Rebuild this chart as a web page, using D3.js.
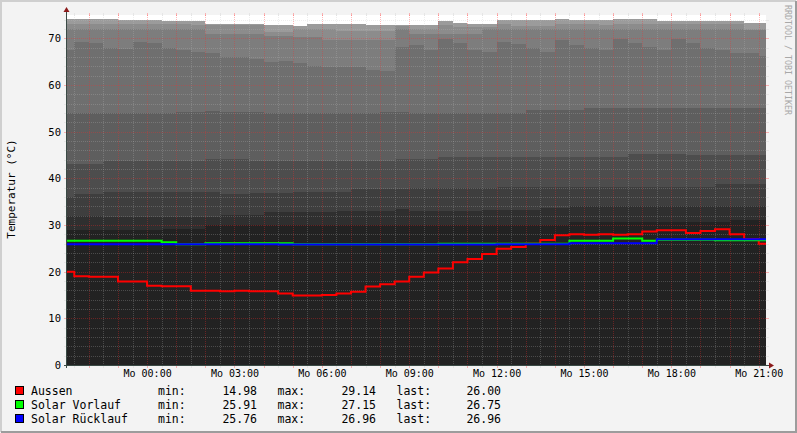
<!DOCTYPE html>
<html>
<head>
<meta charset="utf-8">
<script src="https://cdn.jsdelivr.net/npm/d3@7"></script>
<style>
  body { margin: 0; background: #f3f3f3; }
  text { font-family: "DejaVu Sans Mono", monospace; }
</style>
</head>
<body>
<svg id="chart" width="797" height="433"></svg>
<script>
// samples every 30 minutes, Sunday 21:15 .. Monday 21:15
const start = new Date(2013, 6, 14, 21, 15);
const stepMinutes = 30;

// grey background layers (tank sensors), top of each area
const shadeA = [74.1,74.1,74.1,74.1, 73.9,73.9,73.9, 73.7,73.7,73.7, 73.1,73.1,73.1,73.1, 72.9,72.9, 72.6,
  73.1,73.1,73.1,73.1, 72.9,72.9, 72.9,72.9,72.9, 73.7, 73.3, 73.1,73.1, 73.9,73.9,73.9,73.9, 74.1,
  73.9,73.9,73.9, 74.1,74.1,74.1, 73.8,73.8,73.8,73.8,73.8,73.8, 73.2,73.2];
const shadeB = [73.1,73.1,73.1,73.1,73.1,73.1,73.1,73.1,73.1, 72.8,72.8,72.8,72.8,72.8, 71.4,71.4,
  72.0,72.0,72.0, 71.6,71.6,71.6,71.6, 72.7, 72.0,72.0, 72.9, 72.4,72.4,72.4, 73.1, 72.7,72.7,72.7,
  73.1,73.1,73.1, 72.9, 73.0,73.0,73.0,73.0,73.0,73.0,73.0,73.0,73.0, 71.9,71.9];
const shadeC = [72.0,72.0,72.0,72.0,72.0,72.0,72.0,72.0,72.0, 72.1, 71.0,71.0,71.0,71.0, 70.4,70.4,
  70.3,70.3, 69.7,69.7,69.7,69.7,69.7, 71.9, 71.0,71.0,71.0,71.0,71.0,
  72.0,72.0,72.0,72.0,72.0,72.0,72.0,72.0,72.0,72.0,72.0,72.0,72.0,72.0,72.0,72.0,72.0,72.0, 71.8,71.8];
const shadeWave = [67.6,69.3,68.9,67.9,67.7,69.3,68.9,67.9,67.4,67.0,66.8,65.9,65.9,65.6,64.9,65.1,64.8,
  64.1,63.9,63.9,63.8,63.2,62.9,68.2,68.6,67.5,69.8,68.9,67.6,67.1,69.3,68.7,67.9,67.0,69.6,68.6,67.9,
  67.4,69.9,68.9,68.2,67.6,69.8,68.9,67.9,67.5,66.9,66.8,66.2];
const shadeF = [53.9,53.9,53.9,53.9,53.9,53.9,53.9,53.9, 54.2,54.2,54.4,54.3, 54.2,54.2,
  53.9,53.9,53.9,53.9,53.9,53.9,53.9,53.9, 54.2,54.2,54.1,54.1, 53.9,53.9,53.9, 54.1,54.1,54.1,
  54.6,54.6,54.6,54.6, 55.0,55.0,55.0,55.0,55.0,55.0,55.0,55.0,55.0,55.0,55.0,55.0,55.0];
const shadeG = [43.1,43.1,43.1, 43.8,43.8,43.8,43.8,43.8,43.8,43.8, 44.1,44.1,44.1,
  43.8,43.8,43.8,43.8,43.8,43.8,43.8,43.8,43.8,43.8, 44.1,44.1,44.1,
  44.6,44.6,44.6,44.6,44.6,44.6,44.6,44.6,44.6,44.6,44.6,44.6,44.6, 45.2,45.2,45.2,45.2,
  44.9,44.9,44.9,44.9,44.9,44.9];
const shadeH = [36.1, 36.6,36.6, 37.0,37.0,37.0,37.0,37.0,37.0,37.0,37.0, 36.6,36.6, 36.8,36.8,36.8,
  37.0,37.0,37.0,37.0, 37.7,37.7,37.7,37.7, 37.9,37.9,37.9,37.9,37.9,37.9,
  38.1,38.1,38.1,38.1,38.1,38.1,38.1,38.1,38.1,38.1,38.1,38.1,38.1,38.1,38.1, 38.8,38.8,38.8,38.8];
const shadeI = [32.0,32.0,32.0, 31.8,31.8,31.8,31.8,31.8,31.8,31.8,31.8, 32.1,32.1,32.1,
  32.7,32.7,32.7,32.7,32.7, 33.0,33.0,33.0,33.0, 33.4, 32.9,32.9,32.9,32.9,32.9, 33.2,33.2,33.2,33.2,
  33.6,33.6, 34.1,34.1,34.1,34.1,34.1,34.1,34.1,34.1,34.1,34.1,34.1,34.1,34.1,34.1];
const shadeJ = [28.9,28.9,28.9,28.9,28.9,28.9,28.9, 29.2,29.2,29.2,
  29.9,29.9,29.9,29.9,29.9,29.9,29.9,29.9,29.9,29.9,29.9,29.9, 30.1,
  30.0,30.0,30.0,30.0,30.0,30.0,30.0,30.0,30.0,30.0,30.0,30.0,
  30.7,30.7,30.7,30.7,30.7,30.7,30.7,30.7,30.7,30.7,30.7, 31.1,31.1,31.1];

// plotted series
const aussen = [20.0,19.0,18.9,18.9,17.9,17.9,17.0,16.9,16.9,15.9,15.9,15.8,15.9,15.8,15.8,15.3,14.9,
  14.9,15.0,15.3,15.7,16.8,17.3,17.9,18.9,19.8,20.7,22.0,22.7,23.8,24.9,25.3,26.0,26.8,27.8,28.0,27.9,
  28.0,27.9,28.0,28.6,28.9,28.9,28.3,28.7,29.1,28.0,27.0,26.0];
const vorlauf = [26.6,26.6,26.6,26.6,26.6,26.6,26.6, 26.3, 25.9,25.9, 26.1,26.1,26.1,26.1,26.1,26.1,
  25.9,25.9,25.9,25.9,25.9,25.9,25.9,25.9,25.9,25.9, 26.0,26.0,26.0,26.0,26.0,26.0,26.0,26.0,26.0,
  26.6,26.6,26.6, 27.1,27.1, 26.6, 26.85,26.85,26.85,26.85, 26.75,26.75,26.75,26.75];
const ruecklauf = [25.9,25.9,25.9,25.9,25.9,25.9,25.9,25.9,25.9,25.9,25.9,25.9,25.9,25.9,25.9,
  25.8,25.8,25.8,25.8,25.8,25.8,25.8,25.8,25.8,25.8,25.8,25.8,25.8,25.8,25.8,
  25.9,25.9,25.9,25.9,25.9, 26.1,26.1,26.1,26.1,26.1,26.1,
  26.96,26.96,26.96,26.96,26.96,26.96,26.96,26.96];

// legend
const legendNames = ["Aussen", "Solar Vorlauf", "Solar Rücklauf"];
const legendColors = ["#ff0000", "#00ff00", "#0000ff"];
const statMin = ["14.98", "25.91", "25.76"];
const statMax = ["29.14", "27.15", "26.96"];
const statLast = ["26.00", "26.75", "26.96"];

const yTicks = [0, 10, 20, 30, 40, 50, 60, 70];

const W = 797, H = 433;
const plot = { left: 67, right: 766, top: 15, bottom: 365 };

const svg = d3.select("#chart");
const end = new Date(start.getTime() + 24 * 3600 * 1000);
const times = aussen.map((d, i) => new Date(start.getTime() + i * stepMinutes * 60000));

const x = d3.scaleTime().domain([start, end]).range([plot.left, plot.right]);
const y = d3.scaleLinear().domain([0, 75]).range([plot.bottom, plot.top]);

// background + 3d frame
svg.append("rect").attr("width", W).attr("height", H).attr("fill", "#f3f3f3");
svg.append("path").attr("d", `M1,${H - 1}V1H${W - 1}`).attr("fill", "none")
  .attr("stroke", "#cfcfcf").attr("stroke-width", 2);
svg.append("path").attr("d", `M1,${H - 1}H${W - 1}V1`).attr("fill", "none")
  .attr("stroke", "#9c9c9c").attr("stroke-width", 2);

// canvas
svg.append("rect").attr("x", plot.left).attr("y", plot.top)
  .attr("width", plot.right - plot.left).attr("height", plot.bottom - plot.top)
  .attr("fill", "#ffffff");

// grey areas, back to front
const shades = [
  { values: shadeA, color: "#9b9b9b" },
  { values: shadeB, color: "#8c8c8c" },
  { values: shadeC, color: "#7d7d7d" },
  { values: shadeWave, color: "#6f6f6f" },
  { values: shadeF, color: "#5e5e5e" },
  { values: shadeG, color: "#4d4d4d" },
  { values: shadeH, color: "#3e3e3e" },
  { values: shadeI, color: "#2f2f2f" },
  { values: shadeJ, color: "#222222" }
];

const area = d3.area()
  .x((d, i) => x(times[i]))
  .y0(y(0))
  .y1(d => y(d))
  .curve(d3.curveStep);

shades.forEach(s => {
  svg.append("path").datum(s.values)
    .attr("d", area)
    .attr("fill", s.color)
    .attr("shape-rendering", "crispEdges");
});

// grid
const minorCol = "rgba(192,192,192,0.26)";
const majorCol = "rgba(255,40,40,0.32)";
const grid = svg.append("g").attr("shape-rendering", "crispEdges");

const halfHours = d3.timeMinute.every(30).range(start, end);
halfHours.forEach(t => {
  const major = t.getMinutes() === 0;
  const px = Math.round(x(t)) + 0.5;
  const col = major ? majorCol : minorCol;
  grid.append("line").attr("x1", px).attr("x2", px)
    .attr("y1", plot.top).attr("y2", plot.bottom)
    .attr("stroke", col).attr("stroke-dasharray", "1,1");
  grid.append("line").attr("x1", px).attr("x2", px)
    .attr("y1", plot.top - 2).attr("y2", plot.top + 1).attr("stroke", col);
  grid.append("line").attr("x1", px).attr("x2", px)
    .attr("y1", plot.bottom).attr("y2", plot.bottom + 3).attr("stroke", col);
});

d3.range(2, 75, 2).forEach(v => {
  const major = v % 10 === 0;
  const py = Math.round(y(v)) + 0.5;
  const col = major ? majorCol : minorCol;
  grid.append("line").attr("x1", plot.left).attr("x2", plot.right)
    .attr("y1", py).attr("y2", py)
    .attr("stroke", col).attr("stroke-dasharray", "1,1");
  grid.append("line").attr("x1", plot.left - 3).attr("x2", plot.left)
    .attr("y1", py).attr("y2", py).attr("stroke", col);
  grid.append("line").attr("x1", plot.right).attr("x2", plot.right + 3)
    .attr("y1", py).attr("y2", py).attr("stroke", col);
});

// lines
const line = d3.line()
  .x((d, i) => x(times[i]))
  .y(d => y(d))
  .curve(d3.curveStep);

[aussen, vorlauf, ruecklauf].forEach((series, i) => {
  svg.append("path").datum(series)
    .attr("d", line)
    .attr("fill", "none")
    .attr("stroke", legendColors[i])
    .attr("stroke-width", 2);
});

// axes lines + arrows
svg.append("line").attr("x1", plot.left - 0.5).attr("x2", plot.left - 0.5)
  .attr("y1", plot.bottom + 3).attr("y2", 11)
  .attr("stroke", "#3a4a45").attr("shape-rendering", "crispEdges");
svg.append("line").attr("x1", plot.left - 3).attr("x2", plot.right + 3)
  .attr("y1", plot.bottom + 0.5).attr("y2", plot.bottom + 0.5)
  .attr("stroke", "#3a4a45").attr("shape-rendering", "crispEdges");
svg.append("path").attr("d", `M${plot.left - 3.5},12L${plot.left - 0.5},7L${plot.left + 2.5},12Z`)
  .attr("fill", "#8b1a1a");
svg.append("path").attr("d", `M${plot.right + 3},${plot.bottom - 2.5}L${plot.right + 8},${plot.bottom + 0.5}L${plot.right + 3},${plot.bottom + 3.5}Z`)
  .attr("fill", "#8b1a1a");

// y labels
const yAxis = svg.append("g")
  .attr("transform", `translate(${plot.left},0)`)
  .call(d3.axisLeft(y).tickValues(yTicks).tickSize(0).tickPadding(6));
yAxis.select(".domain").remove();
yAxis.selectAll("text").attr("font-size", 10.5).attr("fill", "#000")
  .style("font-family", "DejaVu Sans Mono");

// x labels
const xTickTimes = d3.timeHour.every(3).range(start, end);
const xAxis = svg.append("g")
  .attr("transform", `translate(0,${plot.bottom})`)
  .call(d3.axisBottom(x).tickValues(xTickTimes).tickSize(0).tickPadding(5)
    .tickFormat(d => "Mo " + d3.timeFormat("%H:%M")(d)));
xAxis.select(".domain").remove();
xAxis.selectAll("text").attr("font-size", 10).attr("fill", "#000")
  .style("font-family", "DejaVu Sans Mono");

// y title
svg.append("text")
  .attr("transform", "translate(15,189) rotate(-90)")
  .attr("text-anchor", "middle")
  .attr("font-size", 11)
  .text("Temperatur (°C)");

// watermark
svg.append("text")
  .attr("transform", "translate(785,5) rotate(90)")
  .attr("font-size", 8.3)
  .attr("fill", "#a8a8a8")
  .text("RRDTOOL / TOBI OETIKER");

// legend
const rowY = [395, 408.7, 422.5];
const legend = svg.append("g").attr("font-size", 11.5);
legendNames.forEach((name, i) => {
  const by = rowY[i];
  legend.append("rect").attr("x", 15.5).attr("y", by - 8.5).attr("width", 8).attr("height", 8)
    .attr("fill", legendColors[i]).attr("stroke", "#000").attr("shape-rendering", "crispEdges");
  legend.append("text").attr("x", 31).attr("y", by).text(name);
  legend.append("text").attr("x", 158).attr("y", by).text("min:");
  legend.append("text").attr("x", 257).attr("y", by).attr("text-anchor", "end").text(statMin[i]);
  legend.append("text").attr("x", 277.5).attr("y", by).text("max:");
  legend.append("text").attr("x", 376).attr("y", by).attr("text-anchor", "end").text(statMax[i]);
  legend.append("text").attr("x", 396.5).attr("y", by).text("last:");
  legend.append("text").attr("x", 501).attr("y", by).attr("text-anchor", "end").text(statLast[i]);
});
</script>
</body>
</html>
